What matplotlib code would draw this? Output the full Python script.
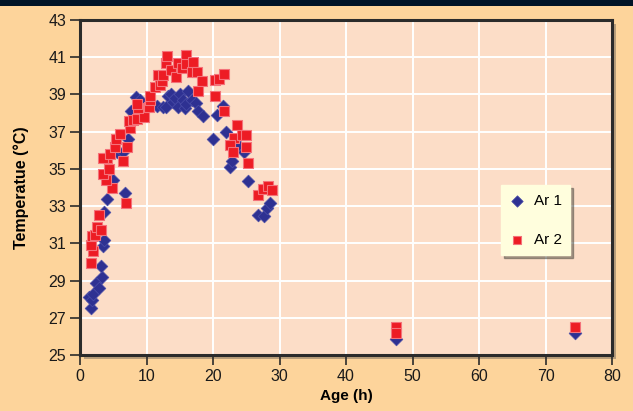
import matplotlib
matplotlib.use("Agg")
import matplotlib.pyplot as plt
from matplotlib.patches import Rectangle

plt.rcParams["font.family"] = ["Liberation Sans", "DejaVu Sans"]

ar1_age = [1.4, 1.6, 1.75, 2.0, 2.4, 2.9, 3.3, 3.2, 3.4, 3.6, 3.6, 4.0, 6.7, 5.0,
           5.6, 6.4, 7.2, 7.7, 8.4, 9.0, 11.6, 12.5, 13.0, 13.2, 13.7, 14.0, 14.3,
           14.8, 15.0, 15.5, 15.8, 16.0, 16.3, 16.8, 17.5, 17.8, 18.5, 20.0, 20.6,
           21.5, 22.0, 22.5, 22.9, 23.8, 24.6, 25.2, 26.7, 27.6, 28.1, 28.6,
           47.5, 74.5]
ar1_temp = [28.1, 27.5, 27.95, 28.3, 28.85, 28.6, 29.2, 29.8, 30.85, 31.2, 32.7,
            33.4, 33.7, 34.4, 35.9, 35.9, 36.6, 38.1, 38.85, 38.7, 38.4, 38.3,
            38.35, 38.9, 39.05, 38.6, 38.8, 38.3, 39.0, 38.7, 38.25, 38.5, 39.2,
            38.7, 38.55, 38.1, 37.85, 36.6, 37.9, 38.4, 37.0, 35.1, 35.4, 36.3,
            35.9, 34.35, 32.5, 32.45, 32.9, 33.15, 25.85, 26.2]

ar2_age = [1.6, 1.9, 1.6, 1.75, 2.25, 2.5, 3.1, 2.9, 6.9, 4.8, 3.9, 3.4, 4.4, 6.5,
           4.0, 3.5, 4.5, 7.0, 5.3, 5.4, 6.0, 7.5, 7.3, 7.9, 8.5, 9.6, 8.7, 8.6,
           10.4, 10.5, 10.6, 11.3, 12.0, 12.4, 11.8, 12.5, 13.0, 13.1, 13.7, 14.5,
           14.8, 15.3, 15.9, 16.0, 16.8, 17.0, 17.6, 18.3, 17.8, 20.3, 20.3, 20.9,
           21.6, 21.7, 23.6, 23.1, 24.3, 25.0, 22.5, 23.0, 24.9, 25.2, 26.7, 27.5,
           28.2, 28.8, 47.5, 47.5, 74.5]
ar2_temp = [29.95, 30.6, 30.9, 31.4, 31.45, 31.9, 31.7, 32.5, 33.15, 34.0, 34.4,
            34.75, 35.0, 35.4, 35.6, 35.6, 35.8, 36.2, 36.2, 36.6, 36.9, 37.2,
            37.55, 37.6, 37.7, 37.8, 38.25, 38.5, 38.35, 38.7, 38.9, 39.4, 39.5,
            39.7, 40.05, 40.05, 40.7, 41.05, 40.3, 39.95, 40.7, 40.4, 41.1, 40.65,
            40.2, 40.75, 40.2, 39.7, 39.2, 38.9, 39.8, 39.85, 40.1, 38.1, 37.35,
            36.65, 36.8, 36.8, 36.3, 35.9, 36.15, 35.3, 33.6, 33.9, 34.1, 33.85,
            26.5, 26.2, 26.5]

x_ticks = list(range(0, 81, 10))
y_ticks = list(range(25, 44, 2))

fig = plt.figure(figsize=(6.33, 4.11), dpi=100)
fig.patch.set_facecolor("#FDD49B")
fig.patches.append(Rectangle((0, 1 - 6 / 411), 1, 6 / 411, transform=fig.transFigure,
                             facecolor="#001326", edgecolor="none", zorder=-5))

left, bottom, width, height = 80 / 633, 56 / 411, 532 / 633, 335 / 411
fig.patches.append(Rectangle((left + 4 / 633, bottom - 4 / 411), width, height,
                             transform=fig.transFigure, facecolor="#8a7a66",
                             edgecolor="none", alpha=0.6, zorder=-4))
ax = fig.add_axes([left, bottom, width, height])
ax.set_facecolor("#FCDDC7")

ax.scatter(ar1_age, ar1_temp, marker="D", s=42, color="#2E3192",
           edgecolors="#4A4DA8", linewidths=0.5, label="Ar 1", zorder=3)
ax.scatter(ar2_age, ar2_temp, marker="s", s=48, color="#ED1C24",
           edgecolors="#F4727A", linewidths=0.8, label="Ar 2", zorder=3)

ax.set_xlim(0, 80)
ax.set_ylim(25, 43)
ax.set_xticks(x_ticks)
ax.set_yticks(y_ticks)
ax.grid(True, color="white", linewidth=1.4)
ax.set_axisbelow(True)
for side in ax.spines.values():
    side.set_color("#2b2b2b")
    side.set_linewidth(2.2)
ax.tick_params(direction="out", length=7, width=1.2, color="#2b2b2b",
               labelsize=11.5, labelcolor="#1a1a1a", pad=3)

ax.set_xlabel("Age (h)", fontsize=11, fontweight="bold", labelpad=4)
ax.set_ylabel("Temperatue (\u00b0C)", fontsize=11.5, fontweight="bold", labelpad=14)

leg = ax.legend(loc="upper left", bbox_to_anchor=(0.791, 0.507), borderaxespad=0,
                frameon=True, shadow=True, fancybox=False, fontsize=11,
                handletextpad=0.6, labelspacing=1.65, borderpad=0.55,
                handlelength=1.0, markerscale=0.9)
leg.get_frame().set_facecolor("#FFFEDD")
leg.get_frame().set_edgecolor("#FFFEDD")

fig.savefig("out.png", dpi=100, facecolor=fig.get_facecolor())
